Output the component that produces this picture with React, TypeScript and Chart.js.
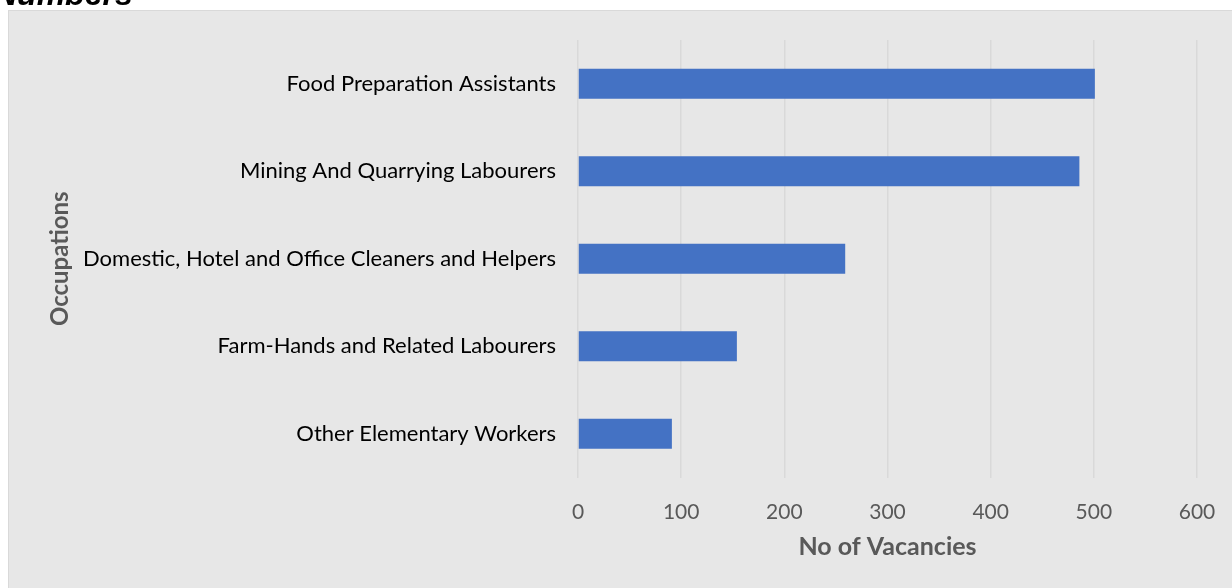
import React, { useEffect, useRef } from "react";
import { Chart, registerables } from "chart.js";

Chart.register(...registerables);

const occupations: string[] = [
  "Food Preparation Assistants",
  "Mining And Quarrying Labourers",
  "Domestic, Hotel and Office Cleaners and Helpers",
  "Farm-Hands and Related Labourers",
  "Other Elementary Workers",
];
const vacancies: number[] = [501, 486, 259, 154, 91];
const xTicks: number[] = [0, 100, 200, 300, 400, 500, 600];
const xTitle = "No of Vacancies";
const yTitle = "Occupations";
const headingText = "Numbers";

export default function App() {
  const ref = useRef<HTMLCanvasElement | null>(null);

  useEffect(() => {
    document.body.style.overflow = "hidden";
    const canvas = ref.current;
    if (!canvas) return;
    const chart = new Chart(canvas, {
      type: "bar",
      data: {
        labels: occupations,
        datasets: [
          {
            data: vacancies,
            backgroundColor: "#4472C4",
            borderWidth: 0,
            categoryPercentage: 1,
            barPercentage: 0.343,
          },
        ],
      },
      options: {
        indexAxis: "y",
        animation: false,
        responsive: false,
        layout: { padding: { top: 29, right: 50, left: 0, bottom: 0 } },
        plugins: { legend: { display: false }, tooltip: { enabled: false }, title: { display: false } },
        scales: {
          x: {
            min: 0,
            max: 600,
            afterBuildTicks: (scale: any) => {
              scale.ticks = xTicks.map((v) => ({ value: v }));
            },
            afterFit: (scale: any) => {
              scale.height = 121.5;
            },
            grid: { color: "#d9d9d9", lineWidth: 1.5, drawTicks: false },
            border: { display: false },
            ticks: {
              padding: 22,
              color: "#595959",
              font: { family: "Lato", size: 21 },
            },
            title: {
              display: true,
              text: xTitle,
              color: "#595959",
              font: { family: "Lato", size: 25, weight: "bold" },
              padding: { top: 0, bottom: 37 },
            },
          },
          y: {
            afterFit: (scale: any) => {
              scale.width = 569;
              scale.paddingTop = 0;
              scale.paddingBottom = 0;
            },
            grid: { display: false, drawTicks: false },
            border: { display: false },
            ticks: {
              padding: 22,
              color: "#000000",
              font: { family: "Lato", size: 22 },
            },
            title: {
              display: true,
              text: yTitle,
              color: "#595959",
              font: { family: "Lato", size: 24, weight: "bold" },
              padding: { top: 36.5, bottom: 0 },
            },
          },
        },
      },
    });
    return () => chart.destroy();
  }, []);

  return (
    <div>
      <div
        style={{
          position: "fixed",
          left: -6,
          top: -22,
          fontFamily: "'Liberation Sans', Arial, sans-serif",
          fontWeight: "bold",
          fontStyle: "italic",
          fontSize: 32,
          lineHeight: "32px",
          color: "#000",
          whiteSpace: "nowrap",
        }}
      >
        {headingText}
      </div>
      <div
        style={{
          position: "fixed",
          left: 8,
          top: 10,
          width: 1240,
          height: 590,
          boxSizing: "border-box",
          border: "1px solid #d9d9d9",
          background: "#e7e7e7",
        }}
      >
        <canvas ref={ref} width={1238} height={588} style={{ display: "block", width: 1238, height: 588 }} />
      </div>
    </div>
  );
}
